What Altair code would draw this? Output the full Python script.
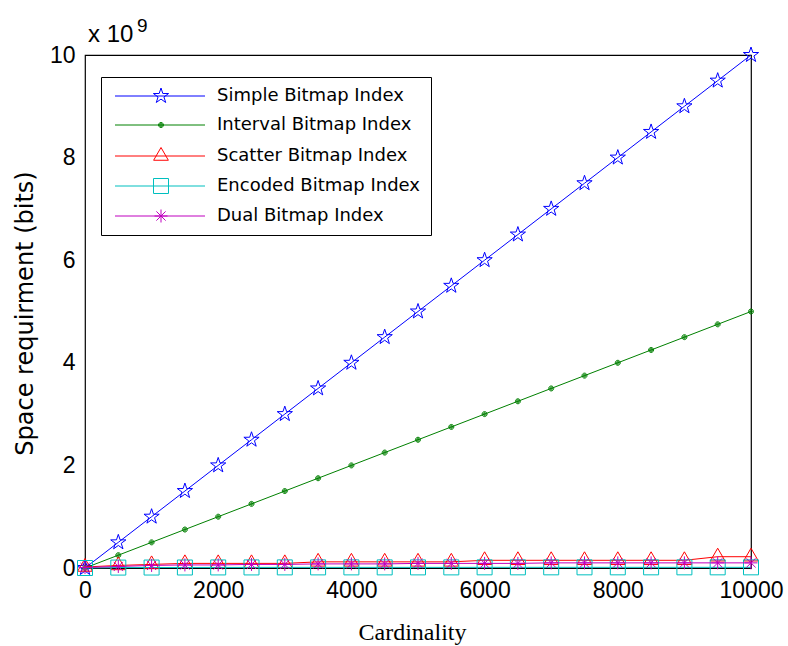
import math
import altair as alt
import pandas as pd

# ---------------- data (space in units of 1e9 bits) ----------------
cardinality = [0, 500, 1000, 1500, 2000, 2500, 3000, 3500, 4000, 4500, 5000,
               5500, 6000, 6500, 7000, 7500, 8000, 8500, 9000, 9500, 10000]
simple = [0.0, 0.5, 1.0, 1.5, 2.0, 2.5, 3.0, 3.5, 4.0, 4.5, 5.0,
          5.5, 6.0, 6.5, 7.0, 7.5, 8.0, 8.5, 9.0, 9.5, 10.0]
interval = [0.0, 0.25, 0.5, 0.75, 1.0, 1.25, 1.5, 1.75, 2.0, 2.25, 2.5,
            2.75, 3.0, 3.25, 3.5, 3.75, 4.0, 4.25, 4.5, 4.75, 5.0]
scatter = [0.02, 0.05, 0.07, 0.09, 0.09, 0.09, 0.09, 0.12, 0.12, 0.12, 0.12,
           0.12, 0.15, 0.15, 0.15, 0.15, 0.15, 0.15, 0.15, 0.22, 0.22]
encoded = [0.0, 0.008, 0.009, 0.010, 0.011, 0.011, 0.012, 0.012, 0.012, 0.012, 0.012,
           0.012, 0.013, 0.013, 0.013, 0.013, 0.013, 0.013, 0.013, 0.013, 0.013]
dual = [0.01, 0.03, 0.05, 0.06, 0.06, 0.07, 0.07, 0.08, 0.08, 0.08, 0.09,
        0.09, 0.09, 0.09, 0.10, 0.10, 0.10, 0.10, 0.10, 0.10, 0.10]

series_names = ["Simple Bitmap Index", "Interval Bitmap Index", "Scatter Bitmap Index",
                "Encoded Bitmap Index", "Dual Bitmap Index"]
series_values = [simple, interval, scatter, encoded, dual]
colors = ["#0000ff", "#008000", "#ff0000", "#00bfbf", "#bf00bf"]

x_ticks = [0, 2000, 4000, 6000, 8000, 10000]
y_ticks = [0, 2, 4, 6, 8, 10]
exponent_base = "x 10"
exponent_power = "9"

rows = []
for name, vals in zip(series_names, series_values):
    for c, v in zip(cardinality, vals):
        rows.append({"series": name, "cardinality": c, "space": v})
df = pd.DataFrame(rows)

# ---------------- marker shapes (SVG paths, 1 unit = 5 px at size 100) ----------------
def fmt(v):
    return f"{v:.3f}"

def star(cx=0.0, r=1.6, ri=0.62):
    pts = []
    for k in range(10):
        ang = math.radians(-90 + 36 * k)
        rr = r if k % 2 == 0 else ri
        pts.append((cx + rr * math.cos(ang), rr * math.sin(ang)))
    return "M" + "L".join(f"{fmt(x)},{fmt(y)}" for x, y in pts) + "Z"

def dot(cx=0.0):
    out = ""
    for r in (0.5, 0.3, 0.12):
        out += (f"M{fmt(cx - r)},0A{r},{r} 0 1,0 {fmt(cx + r)},0"
                f"A{r},{r} 0 1,0 {fmt(cx - r)},0")
    return out

def triangle(cx=0.0, r=1.7):
    pts = [(cx, -r), (cx + r * 0.866, r * 0.5), (cx - r * 0.866, r * 0.5)]
    return "M" + "L".join(f"{fmt(x)},{fmt(y)}" for x, y in pts) + "Z"

def square(cx=0.0, h=1.5):
    return (f"M{fmt(cx - h)},{fmt(-h)}L{fmt(cx + h)},{fmt(-h)}"
            f"L{fmt(cx + h)},{fmt(h)}L{fmt(cx - h)},{fmt(h)}Z")

def asterisk(cx=0.0, r=1.3):
    d = r * 0.707
    return (f"M{fmt(cx)},{fmt(-r)}L{fmt(cx)},{fmt(r)}"
            f"M{fmt(cx - r)},0L{fmt(cx + r)},0"
            f"M{fmt(cx - d)},{fmt(-d)}L{fmt(cx + d)},{fmt(d)}"
            f"M{fmt(cx - d)},{fmt(d)}L{fmt(cx + d)},{fmt(-d)}")

marker_fns = [star, dot, triangle, square, asterisk]
plot_shapes = [f() for f in marker_fns]
LEG_START, LEG_END, LEG_MID = -1.0, 17.0, 8.2
legend_shapes = [f"M{LEG_START},0L{LEG_END},0" + f(cx=LEG_MID) for f in marker_fns]

# ---------------- chart ----------------
xscale = alt.Scale(domain=[0, 10000], nice=False, zero=False)
yscale = alt.Scale(domain=[0, 10], nice=False, zero=False)

x_axis = alt.Axis(values=x_ticks, format="d", title="Cardinality",
                  labelFont="Liberation Sans", labelFontSize=23, labelColor="black",
                  labelPadding=11, labelFlush=False, ticks=False, domain=False, grid=False,
                  titleFont="Liberation Serif", titleFontSize=24, titleFontWeight="normal",
                  titleColor="black", titleX=327, titleY=64, titleAlign="center",
                  titleBaseline="middle")
y_axis = alt.Axis(values=y_ticks, format="d", title="Space requirment (bits)",
                  labelFont="Liberation Sans", labelFontSize=23, labelColor="black",
                  labelPadding=10, labelFlush=False, ticks=False, domain=False, grid=False,
                  titleFont="DejaVu Sans", titleFontSize=24, titleFontWeight="normal",
                  titleColor="black", titleX=-60, titleY=258, titleAngle=270,
                  titleAlign="center", titleBaseline="middle")

X = alt.X("cardinality:Q", scale=xscale, axis=x_axis)
Y = alt.Y("space:Q", scale=yscale, axis=y_axis)

layers = []
for name, shp, col in zip(series_names, plot_shapes, colors):
    base = alt.Chart(df).transform_filter(alt.datum.series == name)
    layers.append(base.mark_line(strokeWidth=1, color=col).encode(
        x=X, y=Y, order=alt.Order("cardinality:Q"),
    ))
    layers.append(base.mark_point(filled=False, strokeWidth=1, size=100, opacity=1,
                                  shape=shp, color=col).encode(x=X, y=Y))

leg = alt.Legend(title=None, orient="none", legendX=16, legendY=22, padding=10,
                 strokeColor="black", fillColor="white", symbolSize=100,
                 symbolStrokeWidth=1, symbolOpacity=1, labelFont="DejaVu Sans",
                 labelFontSize=18, labelColor="black", labelOffset=88, rowPadding=11,
                 labelLimit=0, direction="vertical")

# legend-only layer: draws no marks (empty after filter), scales keep the explicit domain
legend_layer = alt.Chart(df).transform_filter("datum.space < -1").mark_point(
    filled=False, size=100).encode(
    x=X, y=Y,
    stroke=alt.Stroke("series:N", scale=alt.Scale(domain=series_names, range=colors),
                      legend=leg),
    shape=alt.Shape("series:N", scale=alt.Scale(domain=series_names, range=legend_shapes),
                    legend=leg),
)
layers.append(legend_layer)

# "x 10^9" multiplier anchored at the top-left corner of the axes (x=0, y=10)
anchor_filter = "datum.series == 'Simple Bitmap Index' && datum.cardinality == 0"
exp_base = alt.Chart(df).transform_filter(anchor_filter).mark_text(
    text=exponent_base, font="Liberation Sans", fontSize=24, color="black",
    align="left", baseline="alphabetic", dx=3, dy=-13,
).encode(x=alt.X(datum=0, scale=xscale), y=alt.Y(datum=10, scale=yscale))
exp_pow = alt.Chart(df).transform_filter(anchor_filter).mark_text(
    text=exponent_power, font="Liberation Sans", fontSize=19, color="black",
    align="left", baseline="alphabetic", dx=52, dy=-23,
).encode(x=alt.X(datum=0, scale=xscale), y=alt.Y(datum=10, scale=yscale))
layers += [exp_base, exp_pow]

chart = alt.layer(*layers).properties(
    width=666, height=513,
    padding={"left": 85, "top": 55, "right": 37, "bottom": 78},
    autosize=alt.AutoSizeParams(type="none"),
    background="white",
).configure_view(stroke="black", strokeWidth=1.2)

chart.save("out.html", embed_options={"renderer": "svg", "actions": False})
